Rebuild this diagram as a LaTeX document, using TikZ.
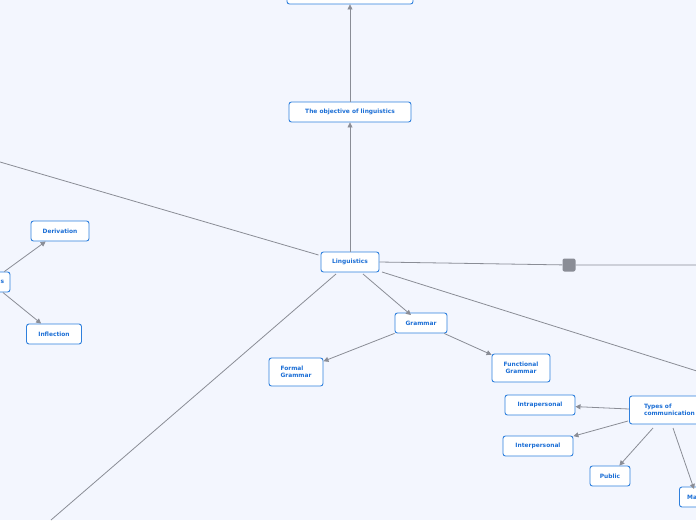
\documentclass[tikz,border=0pt]{standalone}
\usepackage{fontspec}
\setmainfont{DejaVu Sans}
\usetikzlibrary{arrows.meta}
\definecolor{bg}{HTML}{F3F6FE}
\definecolor{tx}{HTML}{1C6FD6}
\definecolor{bd}{HTML}{2F80DD}
\definecolor{ln}{HTML}{8A8D96}
\begin{document}
\begin{tikzpicture}[x=1pt,y=-1pt,
  lab/.style={font=\bfseries\fontsize{5.9}{7.4}\selectfont,text=tx,inner sep=0pt},
  box/.style={lab,draw=bd,line width=0.9pt,fill=white,rounded corners=2.5pt,minimum height=20pt,align=left},
  con/.style={draw=ln,line width=0.8pt},
  arr/.style={con,-{Triangle[length=5pt,width=5pt]}}]
\useasboundingbox (0,0) rectangle (696,520);
\fill[bg] (0,0) rectangle (696,520);
\clip (0,0) rectangle (696,520);
\node[box,minimum width=126pt] (top) at (350,-6) {};
\node[box,minimum width=122pt] (obj) at (350,112) {The objective of linguistics};
\node[box,minimum width=58pt] (ling) at (350,262) {Linguistics};
\node[box,minimum width=58pt] (der) at (60,231) {Derivation};
\node[box,minimum width=40pt] (s) at (-10,282) {};
\node[lab] (stxt) at (2.5,282) {s};
\node[box,minimum width=55pt] (inf) at (54,334) {Inflection};
\node[box,minimum width=52pt] (gram) at (421,323) {Grammar};
\node[box,minimum width=54pt,minimum height=28pt] (formal) at (296,372) {Formal\\Grammar};
\node[box,minimum width=58pt,minimum height=28pt,align=center] (func) at (521,368) {Functional\\Grammar};
\node[box,minimum width=72pt,minimum height=28pt,anchor=west] (types) at (629,410) {\hspace*{8pt}Types of\\\hspace*{8pt}communication};
\node[box,minimum width=70pt] (intra) at (540,405) {Intrapersonal};
\node[box,minimum width=70pt] (inter) at (538,446) {Interpersonal};
\node[box,minimum width=40pt] (pub) at (610,476) {Public};
\node[box,minimum width=40pt,anchor=west] (mass) at (679,497) {};
\node[lab,anchor=west] (mtxt) at (687,497) {Ma};
\node[fill=ln,rounded corners=2pt,minimum size=13pt,inner sep=0pt] (sq) at (569,265) {};
\coordinate (ul) at (0,162);
\coordinate (ll) at (51,520);
\coordinate (rr) at (696,265);
\coordinate (rd) at (700,372);
\draw[arr] (ling) -- (obj);
\draw[arr] (obj) -- (top);
\draw[con] (ling.west) ++(-2,-7) -- (ul);
\draw[con] (336,274) -- (ll);
\draw[con] (ling.east) -- (sq) -- (rr);
\draw[con] (382,272) -- (rd);
\draw[arr] (363,274) -- (411,315);
\draw[arr] (gram) -- (formal);
\draw[arr] (gram) -- (func);
\draw[arr] (s) -- (der);
\draw[arr] (s) -- (inf);
\draw[arr] (types.west|-intra) ++(0,4) -- (intra);
\draw[arr] (628,421) -- (inter);
\draw[arr] (653,428) -- (pub);
\draw[arr] (673,428) -- (694,489);
\end{tikzpicture}
\end{document}
